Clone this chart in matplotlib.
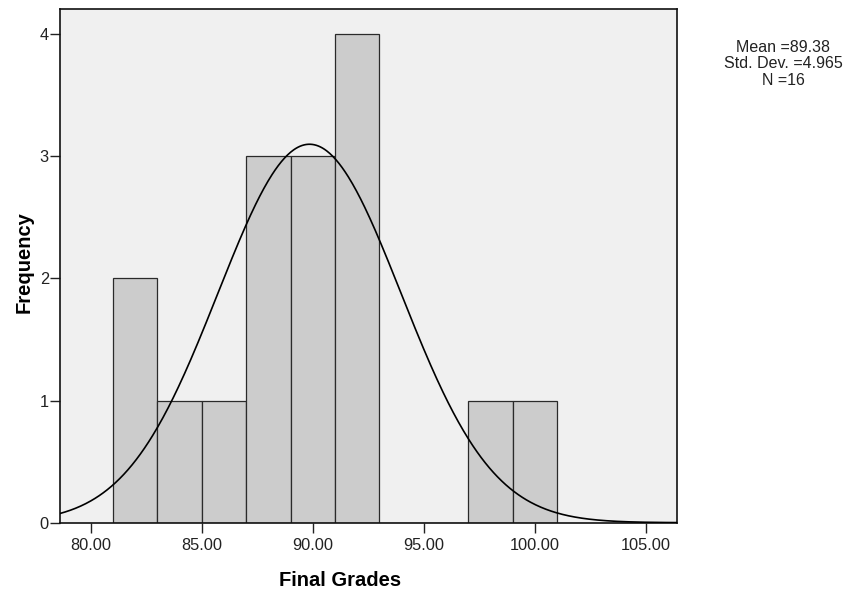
import numpy as np
import matplotlib
matplotlib.use("Agg")
import matplotlib.pyplot as plt

plt.rcParams['font.family'] = ['Liberation Sans', 'DejaVu Sans']

# Data
bin_edges = [81, 83, 85, 87, 89, 91, 93, 95, 97, 99, 101]
counts = [2, 1, 1, 3, 3, 4, 0, 0, 1, 1]
xticks = [80, 85, 90, 95, 100, 105]
yticks = [0, 1, 2, 3, 4]
stats_text = ["Mean =89.38", "Std. Dev. =4.965", "N =16"]
# Normal curve as drawn in the reference
curve_mean = 89.85
curve_sd = 4.12
curve_area = 32.0   # N * bin width

fig = plt.figure(figsize=(8.45, 5.9), dpi=100)
ax = fig.add_axes([60/845, 1-522.7/590, (676.7-60)/845, (522.7-8.5)/590])
ax.set_facecolor('#f0f0f0')

widths = np.diff(bin_edges)
ax.bar(bin_edges[:-1], counts, width=widths, align='edge',
       color='#cccccc', edgecolor='#2a2a2a', linewidth=0.9, zorder=2)

xmin, xmax = 78.62, 106.38
xs = np.linspace(xmin, xmax, 600)
ys = curve_area / (curve_sd * np.sqrt(2*np.pi)) * np.exp(-(xs-curve_mean)**2/(2*curve_sd**2))
ax.plot(xs, ys, color='black', linewidth=1.2, zorder=3)

ax.set_xlim(xmin, xmax)
ax.set_ylim(0, 4.21)
ax.set_xticks(xticks)
ax.set_xticklabels([f"{v:.2f}" for v in xticks])
ax.set_yticks(yticks)
ax.set_yticklabels([str(v) for v in yticks])
ax.tick_params(axis='x', length=7, width=1.0, pad=4, labelsize=11.8, colors='#222222')
ax.tick_params(axis='y', length=7, width=1.0, pad=1, labelsize=11.8, colors='#222222')
for s in ax.spines.values():
    s.set_linewidth(1.2)
    s.set_color('#111111')

fig.text(340.5/845, 1-580/590, "Final Grades", ha='center', va='center',
         fontsize=14.5, fontweight='bold')
fig.text(24/845, 1-262/590, "Frequency", ha='center', va='center',
         rotation=90, fontsize=14.5, fontweight='bold')

fig.text(783.3/845, 1-64/590, "\n".join(stats_text), ha='center', va='center',
         fontsize=11.5, linespacing=1.1, color='#222222')

fig.savefig("out.png", dpi=100)
